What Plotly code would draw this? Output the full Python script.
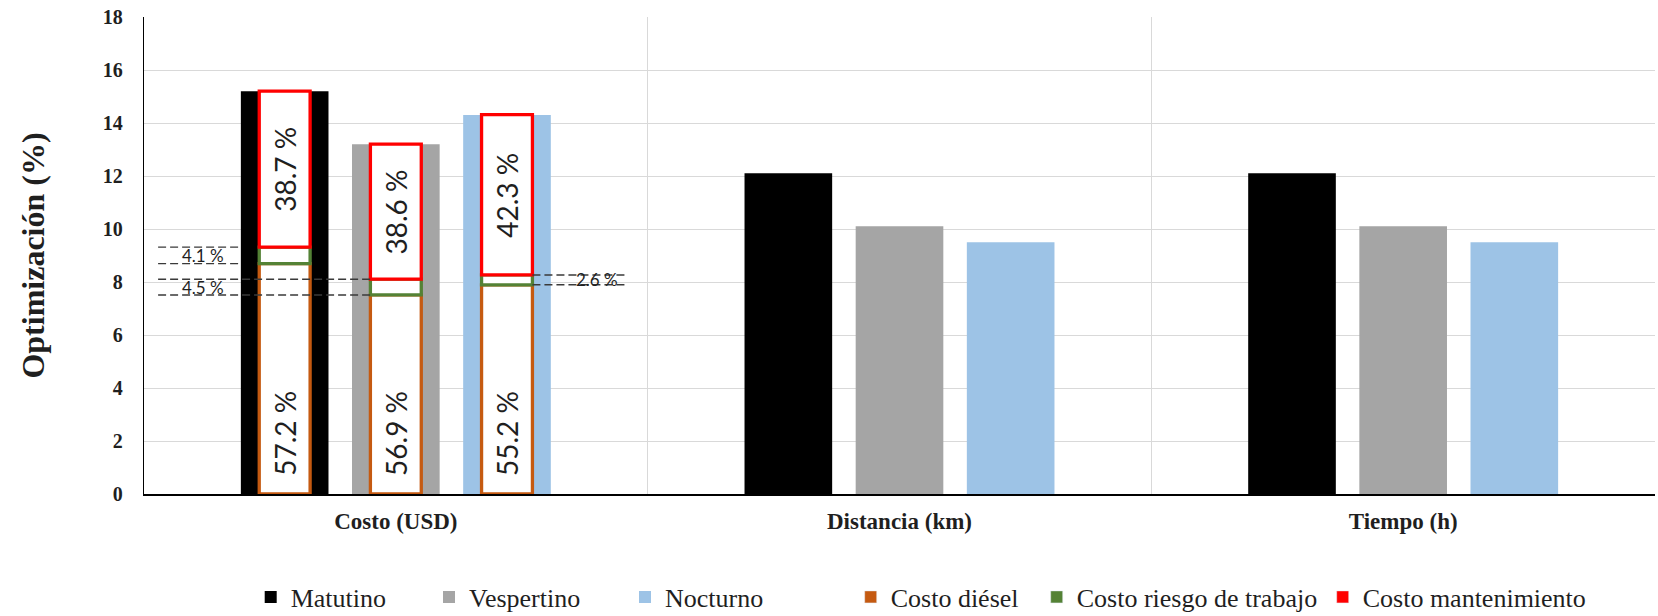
import plotly.graph_objects as go

# ---- data -------------------------------------------------------------
categories = ["Costo (USD)", "Distancia (km)", "Tiempo (h)"]
turnos = ["Matutino", "Vespertino", "Nocturno"]
matutino = [15.2, 12.1, 12.1]
vespertino = [13.2, 10.1, 10.1]
nocturno = [14.3, 9.5, 9.5]

componentes = ["Costo diésel", "Costo riesgo de trabajo", "Costo mantenimiento"]
# share (%) of each shift's cost optimisation, per component
diesel_pct = [57.2, 56.9, 55.2]
riesgo_pct = [4.1, 4.5, 2.6]
mantenimiento_pct = [38.7, 38.6, 42.3]

# ---- style ------------------------------------------------------------
SERIF = "Liberation Serif, Times New Roman, serif"
SANS = "Lato, Open Sans, sans-serif"
TXT = "#1f1f1f"
turno_colors = ["#000000", "#a5a5a5", "#9dc3e6"]
comp_colors = ["#c55a11", "#548235", "#ff0000"]

SLOT = 0.2207      # distance between neighbouring bar centres (category units)
BAR_W = 0.174      # main bar width
BOX_W = 0.101      # width of the component boxes inside the cost bars
shift_pos = [-SLOT, 0.0, SLOT]

fig = go.Figure()

# main bars, one trace per shift
series = [matutino, vespertino, nocturno]
for i, (name, vals) in enumerate(zip(turnos, series)):
    fig.add_trace(go.Bar(
        x=categories, y=vals, name=name,
        width=BAR_W, offset=shift_pos[i] - BAR_W / 2,
        marker=dict(color=turno_colors[i], line=dict(width=0)),
        legend="legend" if i == 0 else f"legend{i + 1}",
        hoverinfo="skip",
    ))

# breakdown of the cost bars into stacked outlined boxes
cost_totals = [matutino[0], vespertino[0], nocturno[0]]
shares = [diesel_pct, riesgo_pct, mantenimiento_pct]
heights = [[t * p / 100 for t, p in zip(cost_totals, s)] for s in shares]
bases = []
running = [0.0, 0.0, 0.0]
for h in heights:
    bases.append(list(running))
    running = [r + v for r, v in zip(running, h)]

for k, comp in enumerate(componentes):
    fig.add_trace(go.Bar(
        x=[categories[0]] * 3, y=heights[k], base=bases[k],
        width=BOX_W, offset=[p - BOX_W / 2 for p in shift_pos],
        marker=dict(color="white", line=dict(color=comp_colors[k], width=3.3)),
        showlegend=False, hoverinfo="skip",
    ))
    # filled key for the legend
    fig.add_trace(go.Bar(
        x=[None], y=[None], name=comp,
        marker=dict(color=comp_colors[k]),
        legend=f"legend{k + 4}", hoverinfo="skip",
    ))

annotations = []
LABEL_Y = 2.3  # centre height of the rotated diesel labels
for i in range(3):
    annotations.append(dict(
        x=shift_pos[i], y=LABEL_Y, xref="x", yref="y",
        text=f"{diesel_pct[i]:.1f} %", textangle=-90, showarrow=False,
        xanchor="center", yanchor="middle",
        font=dict(family=SANS, size=28, color=TXT),
    ))
    annotations.append(dict(
        x=shift_pos[i], y=bases[2][i] + heights[2][i] / 2, xref="x", yref="y",
        text=f"{mantenimiento_pct[i]:.1f} %", textangle=-90, showarrow=False,
        xanchor="center", yanchor="middle",
        font=dict(family=SANS, size=28, color=TXT),
    ))

# dashed leader lines and labels for the small "riesgo" boxes
dash_style = dict(color="#3a3a3a", width=1.4, dash="8px,4px")
shapes = []
LEFT_END = -0.472
RIGHT_END = 0.461
line_spans = [
    (LEFT_END, shift_pos[0] - BAR_W / 2),       # Matutino
    (LEFT_END, shift_pos[1] - BOX_W / 2),       # Vespertino
    (shift_pos[2] + BOX_W / 2, RIGHT_END),      # Nocturno
]
label_x = [-0.383, -0.383, 0.399]
for i in range(3):
    lo = bases[1][i]
    hi = bases[1][i] + heights[1][i]
    x0, x1 = line_spans[i]
    for yv in (lo, hi):
        shapes.append(dict(type="line", xref="x", yref="y",
                           x0=x0, x1=x1, y0=yv, y1=yv,
                           line=dash_style, layer="above"))
    annotations.append(dict(
        x=label_x[i], y=(lo + hi) / 2, xref="x", yref="y",
        text=f"{riesgo_pct[i]:.1f} %", showarrow=False,
        xanchor="center", yanchor="middle",
        font=dict(family=SANS, size=17, color=TXT),
    ))

# one legend per entry so each key sits at its own spot
legend_px = [270.7, 449, 645, 870.7, 1056.7, 1342.7]
legend_layout = {}
for j, px in enumerate(legend_px):
    key = "legend" if j == 0 else f"legend{j + 1}"
    legend_layout[key] = dict(
        xref="container", yref="container",
        x=(px - 20) / 1658, xanchor="left",
        y=1 - 597 / 616, yanchor="middle",
        orientation="h", bgcolor="rgba(0,0,0,0)",
        font=dict(family=SERIF, size=26, color=TXT),
        itemclick=False, itemdoubleclick=False,
    )

fig.update_layout(
    width=1658, height=616,
    margin=dict(l=144, r=3, t=17, b=122),
    paper_bgcolor="white", plot_bgcolor="white",
    barmode="overlay",
    showlegend=True,
    shapes=shapes, annotations=annotations,
    **legend_layout,
)

fig.update_xaxes(
    type="category", categoryorder="array", categoryarray=categories,
    tickson="boundaries", showgrid=True, gridcolor="#d9d9d9", gridwidth=1.3,
    showline=True, linecolor="#000000", linewidth=2,
    ticks="", ticklabelstandoff=5,
    tickfont=dict(family=SERIF, size=23, color=TXT, weight="bold"),
    range=[-0.5, 2.5],
)
fig.update_yaxes(
    range=[0, 18], dtick=2, tick0=0,
    showgrid=True, gridcolor="#d9d9d9", gridwidth=1.3,
    showline=True, linecolor="#000000", linewidth=1.3,
    zeroline=False, ticks="", ticklabelstandoff=16,
    tickfont=dict(family=SERIF, size=20, color=TXT, weight="bold"),
    title=dict(text="Optimización (%)", standoff=48,
               font=dict(family=SERIF, size=32, color=TXT, weight="bold")),
)

fig.write_html("out.html")
